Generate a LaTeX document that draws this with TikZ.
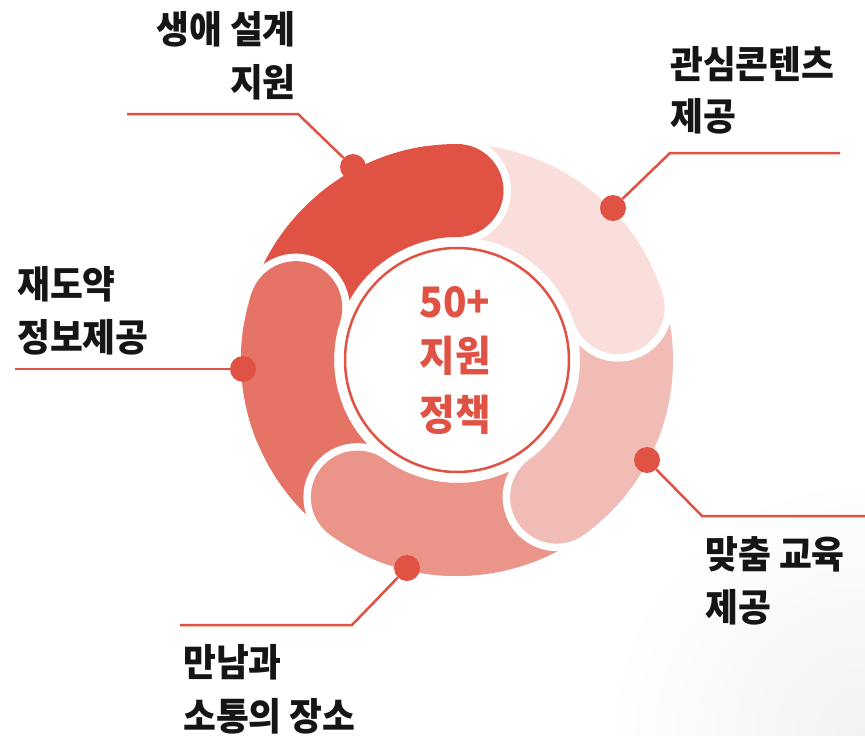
\documentclass[tikz,border=0pt]{standalone}
\usepackage{fontspec}
\setmainfont{Noto Sans CJK KR}
\newfontfamily\krlbl{Noto Sans CJK KR}[FakeStretch=0.94]
\newfontfamily\krcore{Noto Sans CJK KR}[FakeStretch=0.92]
\definecolor{accent}{HTML}{E05243}
\definecolor{segA}{HTML}{E05243}
\definecolor{segB}{HTML}{F9DEDB}
\definecolor{segC}{HTML}{F2BCB6}
\definecolor{segD}{HTML}{EA948A}
\definecolor{segE}{HTML}{E57366}
\definecolor{ink}{HTML}{151515}
\definecolor{haze}{HTML}{F2F2F2}
\begin{document}
\begin{tikzpicture}[x=1pt,y=-1pt,
  lbl/.style={inner sep=0pt, text=ink, font=\krlbl\fontsize{38}{55}\selectfont\bfseries},
  core/.style={inner sep=0pt, text=accent, font=\krcore\fontsize{42}{55}\selectfont\bfseries},
  dot/.style={circle, fill=accent, minimum size=26pt, inner sep=0pt},
  lead/.style={draw=accent, line width=2.5pt}]
\useasboundingbox (0,0) rectangle (865,736);
\fill[white] (0,0) rectangle (865,736);
\begin{scope}
  \clip (0,0) rectangle (865,736);
  \shade[inner color=haze, outer color=white] (865,736) circle[radius=260];
\end{scope}
% ring
\begin{scope}[shift={(457,360)}, yscale=-1]
  \foreach \e/\c in {90/segA,18/segB,-54/segC,-126/segD,162/segE} {
    \fill[\c] (\e:216) arc[start angle=\e, end angle=\e+72, radius=216]
      -- (\e+72:123) arc[start angle=\e+72, end angle=\e, radius=123] -- cycle;
  }
  \foreach \e/\c in {90/segA,18/segB,-54/segC,-126/segD,162/segE} {
    \fill[white] (\e:169.5) circle[radius=54];
    \fill[\c] (\e:169.5) circle[radius=46.5];
    \fill[\c] (\e:216) arc[start angle=\e, end angle=\e+40, radius=216]
      -- (\e+40:123) arc[start angle=\e+40, end angle=\e, radius=123] -- cycle;
  }
\end{scope}
\node[circle, draw=accent, line width=2.5pt, fill=white, minimum size=224pt, inner sep=0pt] (hub) at (457,360) {};
\node[core, anchor=base] (c1) at (455,317) {50+};
\node[core, anchor=base] (c2) at (455,371) {지원};
\node[core, anchor=base] (c3) at (455,430) {정책};
% dots
\node[dot] (d1) at (353,167) {};
\node[dot] (d2) at (613,208) {};
\node[dot] (d3) at (243,369) {};
\node[dot] (d4) at (647,460) {};
\node[dot] (d5) at (407,568) {};
% leader lines
\coordinate (b1) at (298,114); \coordinate (e1) at (127,114);
\coordinate (b2) at (670,153); \coordinate (e2) at (840,153);
\coordinate (e3) at (15,369);
\coordinate (b4) at (702,516); \coordinate (e4) at (865,516);
\coordinate (b5) at (352,625); \coordinate (e5) at (180,625);
\draw[lead] (d1) -- (b1) -- (e1);
\draw[lead] (d2) -- (b2) -- (e2);
\draw[lead] (d3) -- (e3);
\draw[lead] (d4) -- (b4) -- (e4);
\draw[lead] (d5) -- (b5) -- (e5);
% labels
\node[lbl, anchor=base east] (t1a) at (296,43) {생애 설계};
\node[lbl, anchor=base east] (t1b) at (296,96) {지원};
\node[lbl, anchor=base west] (t2a) at (670,78) {관심콘텐츠};
\node[lbl, anchor=base west] (t2b) at (670,130) {제공};
\node[lbl, anchor=base west] (t3a) at (17,298) {재도약};
\node[lbl, anchor=base west] (t3b) at (17,351) {정보제공};
\node[lbl, anchor=base west] (t4a) at (705,568) {맞춤 교육};
\node[lbl, anchor=base west] (t4b) at (705,621) {제공};
\node[lbl, anchor=base west] (t5a) at (183,676) {만남과};
\node[lbl, anchor=base west] (t5b) at (183,730) {소통의 장소};
\end{tikzpicture}
\end{document}
